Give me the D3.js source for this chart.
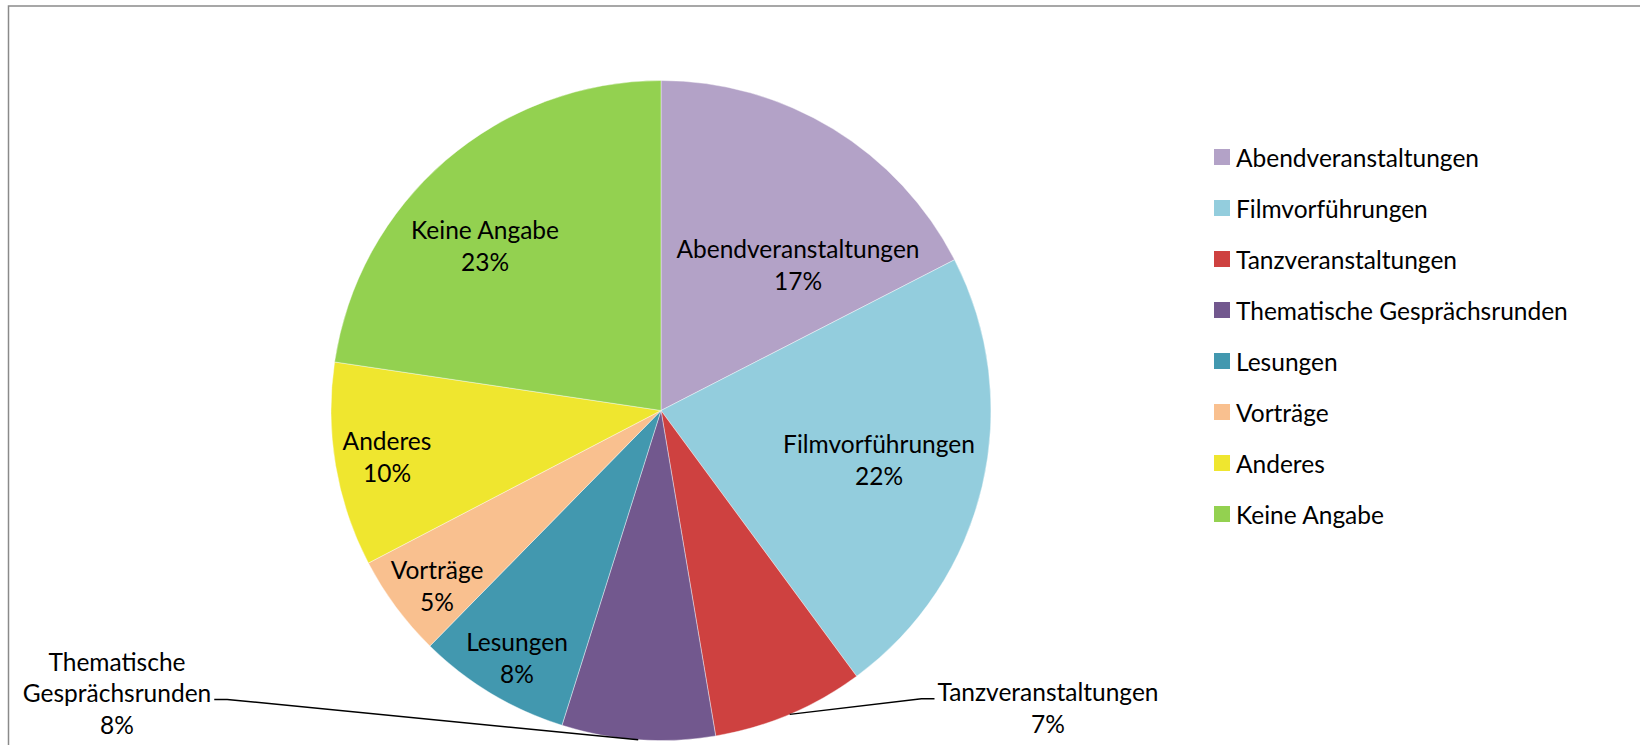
<!DOCTYPE html>
<html>
<head>
<meta charset="utf-8">
<script src="https://cdn.jsdelivr.net/npm/d3@7"></script>
<style>
  body { margin: 0; background: #fff; }
  svg text { font-family: Lato, "Open Sans", sans-serif; fill: #000; }
</style>
</head>
<body>
<div id="chart"></div>
<script>
// Data — share of event types (percent)
const categories = ["Abendveranstaltungen", "Filmvorführungen", "Tanzveranstaltungen",
  "Thematische Gesprächsrunden", "Lesungen", "Vorträge", "Anderes", "Keine Angabe"];
const values = [17.45, 22.45, 7.45, 7.5, 7.5, 5.0, 10.0, 22.65];
const colors = ["#B3A2C7", "#93CDDD", "#CE4140", "#72588E", "#4298AF", "#F9C08F", "#EFE62F", "#93D150"];

// label placement (offset from pie centre) and line breaks for the data labels
const labelLines = [["Abendveranstaltungen"], ["Filmvorführungen"], ["Tanzveranstaltungen"],
  ["Thematische", "Gesprächsrunden"], ["Lesungen"], ["Vorträge"], ["Anderes"], ["Keine Angabe"]];
const labelOffsets = [[137, -146], [218, 49], [387, 297], [-544, 282], [-144, 247], [-224, 175], [-274, 46], [-176, -165]];
const outside = [false, false, true, true, false, false, false, false];

const width = 1640, height = 745;
const cx = 661, cy = 410.5, radius = 330;
const fontSize = 24.5, lineH = 31.5;

const svg = d3.select("#chart")
  .append("svg")
  .attr("width", width)
  .attr("height", height);

// chart frame (only top and left edges are visible in the crop)
svg.append("path")
  .attr("d", `M8.5,${height} V6 H${width}`)
  .attr("fill", "none")
  .attr("stroke", "#8a8a8a")
  .attr("stroke-width", 1.5);

const data = categories.map((c, i) => ({ name: c, value: values[i], color: colors[i], idx: i }));

const pie = d3.pie().sort(null).value(d => d.value);
const arcs = pie(data);
const arc = d3.arc().innerRadius(0).outerRadius(radius);

const g = svg.append("g").attr("transform", `translate(${cx}, ${cy})`);

g.selectAll("path.slice")
  .data(arcs)
  .join("path")
    .attr("class", "slice")
    .attr("d", arc)
    .attr("fill", d => d.data.color)
    .attr("stroke", "#fff")
    .attr("stroke-width", 0.4);

// data labels
arcs.forEach((a, i) => {
  const lines = labelLines[i].concat([Math.round(a.data.value) + "%"]);
  const [ox, oy] = labelOffsets[i];
  const t = g.append("text")
    .attr("text-anchor", "middle")
    .attr("font-size", fontSize);
  lines.forEach((l, k) => {
    t.append("tspan")
      .attr("x", ox)
      .attr("y", oy + (k - (lines.length - 1) / 2) * lineH)
      .attr("dominant-baseline", "central")
      .text(l);
  });

  if (outside[i]) {
    // leader line from the label to the middle of the slice's arc
    const mid = (a.startAngle + a.endAngle) / 2;
    const px = radius * Math.sin(mid), py = -radius * Math.cos(mid);
    const nameLine = labelLines[i].length - 1;
    const tw = t.selectAll("tspan").nodes()[nameLine].getComputedTextLength();
    const ly = oy + (nameLine - (lines.length - 1) / 2) * lineH + 7;
    const side = px > ox ? 1 : -1;
    const x0 = ox + side * (tw / 2 + 3);
    const x1 = x0 + side * 13;
    g.append("path")
      .attr("d", `M${x0},${ly} H${x1} L${px},${py}`)
      .attr("fill", "none")
      .attr("stroke", "#000")
      .attr("stroke-width", 1.5);
  }
});

// legend
const legend = svg.append("g")
  .attr("transform", "translate(1214, 149)");

data.forEach((d, i) => {
  const row = legend.append("g").attr("transform", `translate(0, ${i * 51})`);
  row.append("rect")
    .attr("width", 16)
    .attr("height", 16)
    .attr("fill", d.color);
  row.append("text")
    .attr("x", 22)
    .attr("y", 8)
    .attr("dominant-baseline", "central")
    .attr("font-size", fontSize)
    .text(d.name);
});
</script>
</body>
</html>
